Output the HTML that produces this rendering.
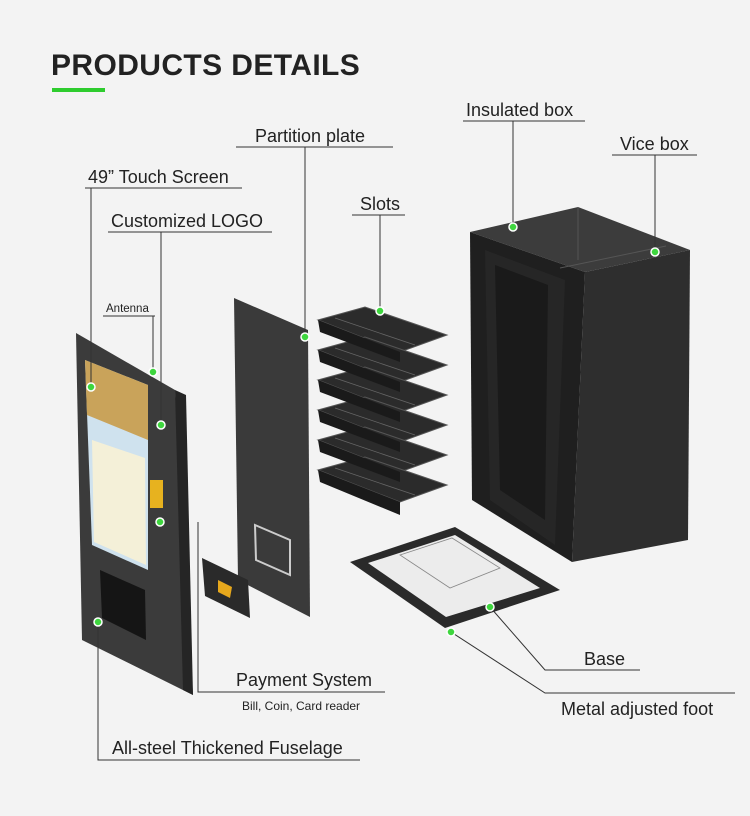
<!DOCTYPE html>
<html><head><meta charset="utf-8"><style>
html,body{margin:0;padding:0;background:#f3f3f3;}
svg{display:block}
text{font-family:"Liberation Sans",sans-serif;fill:#222}
</style></head><body>
<svg width="750" height="816" viewBox="0 0 750 816" xmlns="http://www.w3.org/2000/svg">
<rect width="750" height="816" fill="#f3f3f3"/>
<text x="51" y="75" font-size="30" font-weight="bold" fill="#1e1e1e" letter-spacing="0.4">PRODUCTS DETAILS</text>
<rect x="52" y="88" width="53" height="4" fill="#2ecc2e"/>

<!-- Insulated box -->
<polygon points="470,232 578,207 690,250 585,272" fill="#3c3c3c"/>
<polygon points="585,272 690,250 688,540 572,562" fill="#2e2e2e"/>
<polygon points="470,232 585,272 572,562 472,500" fill="#1f1f1f"/>
<polygon points="485,250 565,280 555,545 490,500" fill="#262626"/>
<polygon points="495,265 548,285 545,520 500,490" fill="#1a1a1a"/>
<line x1="578" y1="207" x2="578" y2="260" stroke="#555"/>
<line x1="560" y1="268" x2="666" y2="246" stroke="#555"/>

<!-- Base -->
<polygon points="350,562 455,527 560,590 445,628" fill="#2a2a2a"/>
<polygon points="368,563 455,535 540,588 446,617" fill="#ececec"/>
<polygon points="400,555 452,538 500,568 450,588" fill="none" stroke="#888" stroke-width="0.8"/>

<!-- Slots -->
<g fill="#2b2b2b" stroke="#555" stroke-width="1">
<polygon points="318,320 365,307 447,335 400,352"/>
<polygon points="318,350 365,337 447,365 400,382"/>
<polygon points="318,380 365,367 447,395 400,412"/>
<polygon points="318,410 365,397 447,425 400,442"/>
<polygon points="318,440 365,427 447,455 400,472"/>
<polygon points="318,470 365,457 447,485 400,502"/>
</g>
<g fill="#1a1a1a">
<polygon points="318,320 400,352 400,362 320,332"/>
<polygon points="318,350 400,382 400,392 320,362"/>
<polygon points="318,380 400,412 400,422 320,392"/>
<polygon points="318,410 400,442 400,452 320,422"/>
<polygon points="318,440 400,472 400,482 320,452"/>
<polygon points="318,470 400,502 400,515 320,482"/>
</g>
<g stroke="#666" stroke-width="0.8">
<line x1="335" y1="318" x2="415" y2="345"/><line x1="335" y1="348" x2="415" y2="375"/>
<line x1="335" y1="378" x2="415" y2="405"/><line x1="335" y1="408" x2="415" y2="435"/>
<line x1="335" y1="438" x2="415" y2="465"/><line x1="335" y1="468" x2="415" y2="495"/>
</g>

<!-- Partition plate -->
<polygon points="234,298 308,330 310,617 238,580" fill="#3a3a3a"/>
<polygon points="255,525 290,540 290,575 256,560" fill="none" stroke="#ccc" stroke-width="2"/>

<!-- small payment part -->
<polygon points="202,558 248,580 250,618 205,596" fill="#2a2a2a"/>
<polygon points="218,580 232,587 230,598 218,592" fill="#e7a81c"/>

<!-- Fuselage -->
<polygon points="76,333 175,390 193,695 82,640" fill="#3b3b3b"/>
<polygon points="175,390 186,395 193,695 183,690" fill="#252525"/>
<polygon points="85,360 148,385 148,570 92,545" fill="#cfe2ee"/>
<polygon points="85,360 148,385 148,440 87,415" fill="#c9a35a"/>
<polygon points="92,440 145,458 146,565 94,542" fill="#f4f0d8"/>
<polygon points="100,570 145,590 146,640 102,618" fill="#151515"/>
<rect x="150" y="480" width="13" height="28" fill="#e7b21f"/>

<!-- callout lines -->
<g stroke="#333" stroke-width="1" fill="none">
<polyline points="236,147 393,147"/><line x1="305" y1="147" x2="305" y2="337"/>
<polyline points="463,121 585,121"/><line x1="513" y1="121" x2="513" y2="227"/>
<polyline points="612,155 697,155"/><line x1="655" y1="155" x2="655" y2="252"/>
<polyline points="352,215 405,215"/><line x1="380" y1="215" x2="380" y2="311"/>
<polyline points="85,188 242,188"/><line x1="91" y1="188" x2="91" y2="387"/>
<polyline points="108,232 272,232"/><line x1="161" y1="232" x2="161" y2="425"/>
<polyline points="103,316 155,316"/><line x1="153" y1="316" x2="153" y2="372"/>
<polyline points="198,522 198,692 385,692"/>
<polyline points="98,622 98,760 360,760"/>
<polyline points="490,607 545,670 640,670"/>
<polyline points="451,632 545,693 735,693"/>
</g>

<!-- green dots -->
<g fill="#3ed63e" stroke="#fff" stroke-width="1.5">
<circle cx="305" cy="337" r="4"/><circle cx="513" cy="227" r="4"/><circle cx="655" cy="252" r="4"/>
<circle cx="380" cy="311" r="4"/><circle cx="91" cy="387" r="4"/><circle cx="161" cy="425" r="4"/>
<circle cx="153" cy="372" r="4"/><circle cx="160" cy="522" r="4"/><circle cx="98" cy="622" r="4"/>
<circle cx="490" cy="607" r="4"/><circle cx="451" cy="632" r="4"/>
</g>

<g font-size="18">
<text x="255" y="142">Partition plate</text>
<text x="466" y="116">Insulated box</text>
<text x="620" y="150">Vice box</text>
<text x="360" y="210">Slots</text>
<text x="88" y="183">49” Touch Screen</text>
<text x="111" y="227">Customized LOGO</text>
<text x="236" y="686">Payment System</text>
<text x="112" y="754">All-steel Thickened Fuselage</text>
<text x="584" y="665">Base</text>
<text x="561" y="715">Metal adjusted foot</text>
</g>
<text x="106" y="312" font-size="11.5">Antenna</text>
<text x="242" y="710" font-size="12">Bill, Coin, Card reader</text>
</svg>
</body></html>
